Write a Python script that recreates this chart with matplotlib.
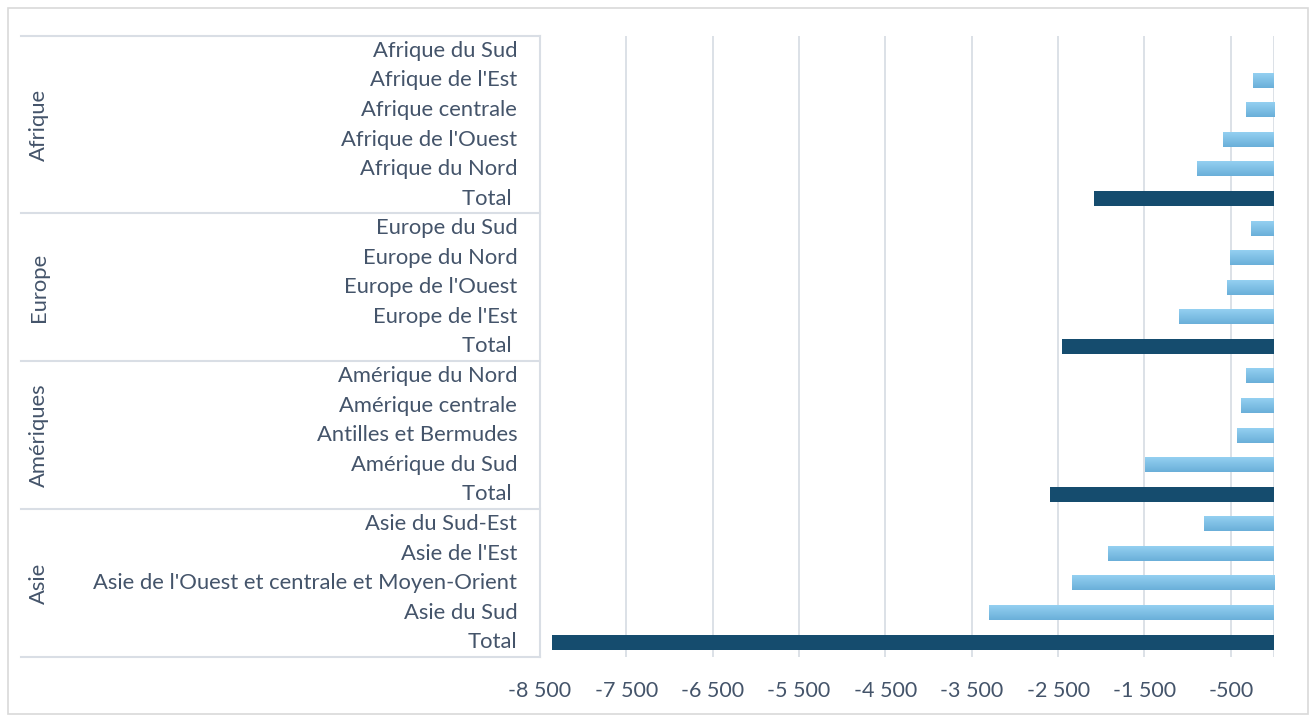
import numpy as np
import matplotlib
matplotlib.use("Agg")
import matplotlib.pyplot as plt
from matplotlib.colors import LinearSegmentedColormap
from matplotlib.lines import Line2D
from matplotlib.patches import Rectangle

# Data (top to bottom, as shown)
groups = ["Afrique", "Europe", "Amériques", "Asie"]
group_sizes = [6, 5, 5, 5]
labels = [
    "Afrique du Sud", "Afrique de l'Est", "Afrique centrale", "Afrique de l'Ouest",
    "Afrique du Nord", "Total ",
    "Europe du Sud", "Europe du Nord", "Europe de l'Ouest", "Europe de l'Est", "Total ",
    "Amérique du Nord", "Amérique centrale", "Antilles et Bermudes", "Amérique du Sud", "Total ",
    "Asie du Sud-Est", "Asie de l'Est", "Asie de l'Ouest et centrale et Moyen-Orient",
    "Asie du Sud", "Total",
]
values = [
    0, -240, -330, -590, -890, -2085,
    -265, -505, -540, -1100, -2450,
    -320, -380, -425, -1490, -2590,
    -805, -1920, -2340, -3300, -8365,
]
is_total = [lab.strip() == "Total" for lab in labels]

txt_color = "#44546A"
grid_color = "#D9DEE5"
dark = "#154C6E"
light_cmap = LinearSegmentedColormap.from_list("lb", ["#94D0F1", "#6AAFD9"])
fs = 15.8

plt.rcParams["font.family"] = ["Lato", "DejaVu Sans"]

W, H = 1309, 715
fig = plt.figure(figsize=(W / 100, H / 100), dpi=100)
ax = fig.add_axes([540 / W, 1 - 657 / H, (1274 - 540) / W, (657 - 36) / H])

n = len(labels)
ypos = np.arange(n)
bars = ax.barh(ypos, values, height=0.5,
               color=[dark if t else "none" for t in is_total], zorder=3)

# gradient fill for the sub-region bars
grad = np.linspace(0, 1, 64).reshape(-1, 1)
for b, t in zip(bars, is_total):
    if t or b.get_width() == 0:
        continue
    x0, y0, w, h = b.get_x(), b.get_y(), b.get_width(), b.get_height()
    ax.imshow(grad, cmap=light_cmap, aspect="auto", zorder=3,
              extent=[x0, x0 + w, y0 + h, y0], interpolation="bilinear")

ax.set_xlim(-8500, 0)
ax.set_ylim(n - 0.5, -0.5)
ticks = np.arange(-8500, 0, 1000)
ax.set_xticks(ticks)
ax.set_xticklabels([f"{t:,}".replace(",", " ") for t in ticks],
                   color=txt_color, fontsize=15.5)
ax.tick_params(axis="x", length=0, pad=17)
for gx in list(ticks) + [0]:
    ax.axvline(gx, color=grid_color, lw=1.3, zorder=1)
ax.set_yticks([])
for s in ax.spines.values():
    s.set_visible(False)

# category labels
for y, lab in zip(ypos, labels):
    ax.text(-0.031, y, lab, transform=ax.get_yaxis_transform(),
            ha="right", va="center", color=txt_color, fontsize=fs)

# group separators and labels
row_h = (657 - 36) / n
y_top = 36
fig.add_artist(Line2D([21 / W, 540 / W], [1 - 36 / H, 1 - 36 / H],
                      color=grid_color, lw=1.5, transform=fig.transFigure))
for g, size in zip(groups, group_sizes):
    y_bot = y_top + size * row_h
    fig.add_artist(Line2D([21 / W, 540 / W], [1 - y_bot / H, 1 - y_bot / H],
                          color=grid_color, lw=1.5, transform=fig.transFigure))
    fig.text(39 / W, 1 - (y_top + y_bot) / 2 / H, g, rotation=90,
             ha="center", va="center", color=txt_color, fontsize=fs)
    y_top = y_bot
fig.add_artist(Line2D([540 / W, 540 / W], [1 - 36 / H, 1 - 657 / H],
                      color=grid_color, lw=1.5, transform=fig.transFigure))

# outer chart border
fig.add_artist(Rectangle((8 / W, 1 / H), 1300 / W, 706 / H,
                         fill=False, edgecolor="#D9D9D9", lw=1.2,
                         transform=fig.transFigure))

fig.savefig("out.png", dpi=100)
